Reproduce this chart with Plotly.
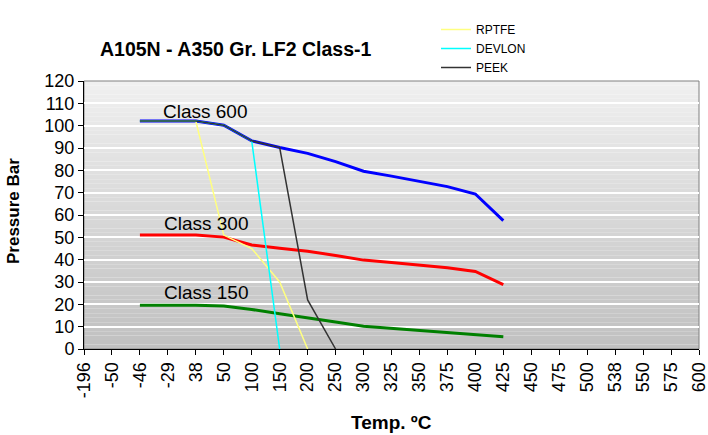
import plotly.graph_objects as go

temps = ["-196", "-50", "-46", "-29", "38", "50", "100", "150", "200", "250", "300",
         "325", "350", "375", "400", "425", "450", "475", "500", "538", "550", "575", "600"]

class_x = ["-46", "-29", "38", "50", "100", "150", "200", "250", "300", "325", "350", "375", "400", "425"]
class600 = [102.1, 102.1, 102.1, 100.2, 93.2, 90.2, 87.6, 83.9, 79.6, 77.4, 75.1, 72.7, 69.4, 57.5]
class300 = [51.1, 51.1, 51.1, 50.1, 46.6, 45.1, 43.8, 41.9, 39.8, 38.7, 37.6, 36.4, 34.7, 28.8]
class150 = [19.6, 19.6, 19.6, 19.2, 17.7, 15.8, 13.8, 12.1, 10.2, 9.3, 8.4, 7.4, 6.5, 5.5]

rptfe_x = ["-46", "-29", "38", "50", "100", "150", "200"]
rptfe = [102.1, 102.1, 102.1, 51.0, 45.0, 30.0, 0]
devlon_x = ["-46", "-29", "38", "50", "100", "150"]
devlon = [102.1, 102.1, 102.1, 100.2, 93.2, 0]
peek_x = ["-46", "-29", "38", "50", "100", "150", "200", "250"]
peek = [102.1, 102.1, 102.1, 100.2, 93.2, 90.2, 22.0, 0]

y_ticks = list(range(0, 121, 10))

FONT = "Arial, Liberation Sans, sans-serif"

fig = go.Figure()
fig.add_trace(go.Scatter(x=class_x, y=class150, mode="lines", line=dict(color="#008000", width=3), showlegend=False, name="Class 150"))
fig.add_trace(go.Scatter(x=class_x, y=class300, mode="lines", line=dict(color="#ff0000", width=3), showlegend=False, name="Class 300"))
fig.add_trace(go.Scatter(x=class_x, y=class600, mode="lines", line=dict(color="#0000ff", width=3), showlegend=False, name="Class 600"))
fig.add_trace(go.Scatter(x=rptfe_x, y=rptfe, mode="lines", line=dict(color="#ffff80", width=1.5), name="RPTFE"))
fig.add_trace(go.Scatter(x=devlon_x, y=devlon, mode="lines", line=dict(color="#00ffff", width=1.5), name="DEVLON"))
fig.add_trace(go.Scatter(x=peek_x, y=peek, mode="lines", line=dict(color="#333333", width=1.5), name="PEEK"))

# gradient background bands
shapes = []
n = 60
top = (0xf0, 0xf0, 0xf0)
bot = (0xc0, 0xc0, 0xc0)
for i in range(n):
    t = (i + 0.5) / n
    c = tuple(int(round(bot[k] + (top[k] - bot[k]) * t)) for k in range(3))
    shapes.append(dict(type="rect", xref="x domain", yref="y domain", x0=0, x1=1,
                       y0=i / n, y1=(i + 1) / n, fillcolor="rgb(%d,%d,%d)" % c,
                       line=dict(width=0), layer="below"))
shapes.append(dict(type="rect", xref="x domain", yref="y domain", x0=0, x1=1, y0=0, y1=1,
                   line=dict(color="#808080", width=1), layer="below"))

L, R, T, B = 84, 699, 81, 349
W, H = R - L, B - T


def px(x):
    return (x - L) / W


def py(y):
    return (B - y) / H


fig.update_layout(
    width=708, height=435,
    margin=dict(l=L, r=708 - R, t=T, b=435 - B, autoexpand=False),
    paper_bgcolor="white", plot_bgcolor="rgba(0,0,0,0)",
    font=dict(family=FONT, color="black"),
    shapes=shapes,
    showlegend=True,
    legend=dict(xref="container", yref="container", x=436 / 708, xanchor="left",
                y=1 - 15 / 435, yanchor="top",
                font=dict(size=12, family=FONT), bgcolor="rgba(0,0,0,0)",
                tracegroupgap=0, itemwidth=30),
    xaxis=dict(type="category", categoryorder="array", categoryarray=temps,
               tickvals=temps, ticktext=temps, automargin=False,
               range=[0, len(temps) - 1], showgrid=False, zeroline=False,
               showline=True, linecolor="black", linewidth=1,
               ticks="outside", ticklen=5, tickcolor="black",
               tickangle=-90, tickfont=dict(size=18, family=FONT)),
    yaxis=dict(range=[0, 120], tickvals=y_ticks, showgrid=True, gridcolor="white", gridwidth=1.5,
               zeroline=False, showline=True, linecolor="black", linewidth=1, automargin=False,
               ticks="outside", ticklen=5, tickcolor="black",
               tickfont=dict(size=18, family=FONT)),
    annotations=[
        dict(text="<b>A105N - A350 Gr. LF2 Class-1</b>", xref="paper", yref="paper",
             x=px(235), y=py(48.5), xanchor="center", yanchor="middle",
             showarrow=False, font=dict(size=19.5, family=FONT)),
        dict(text="<b>Temp. ºC</b>", xref="paper", yref="paper",
             x=px(391), y=py(422), xanchor="center", yanchor="middle",
             showarrow=False, font=dict(size=19, family=FONT)),
        dict(text="<b>Pressure Bar</b>", xref="paper", yref="paper", textangle=-90,
             x=px(13), y=py(211), xanchor="center", yanchor="middle",
             showarrow=False, font=dict(size=17, family=FONT)),
        dict(text="Class 600", xref="paper", yref="paper",
             x=px(205), y=py(112), xanchor="center", yanchor="middle",
             showarrow=False, font=dict(size=19, family=FONT)),
        dict(text="Class 300", xref="paper", yref="paper",
             x=px(206), y=py(223), xanchor="center", yanchor="middle",
             showarrow=False, font=dict(size=19, family=FONT)),
        dict(text="Class 150", xref="paper", yref="paper",
             x=px(206), y=py(292), xanchor="center", yanchor="middle",
             showarrow=False, font=dict(size=19, family=FONT)),
    ],
)

fig.write_html("out.html", config={"displayModeBar": False},
               post_script="document.body.style.margin='0';document.body.style.overflow='hidden';")
